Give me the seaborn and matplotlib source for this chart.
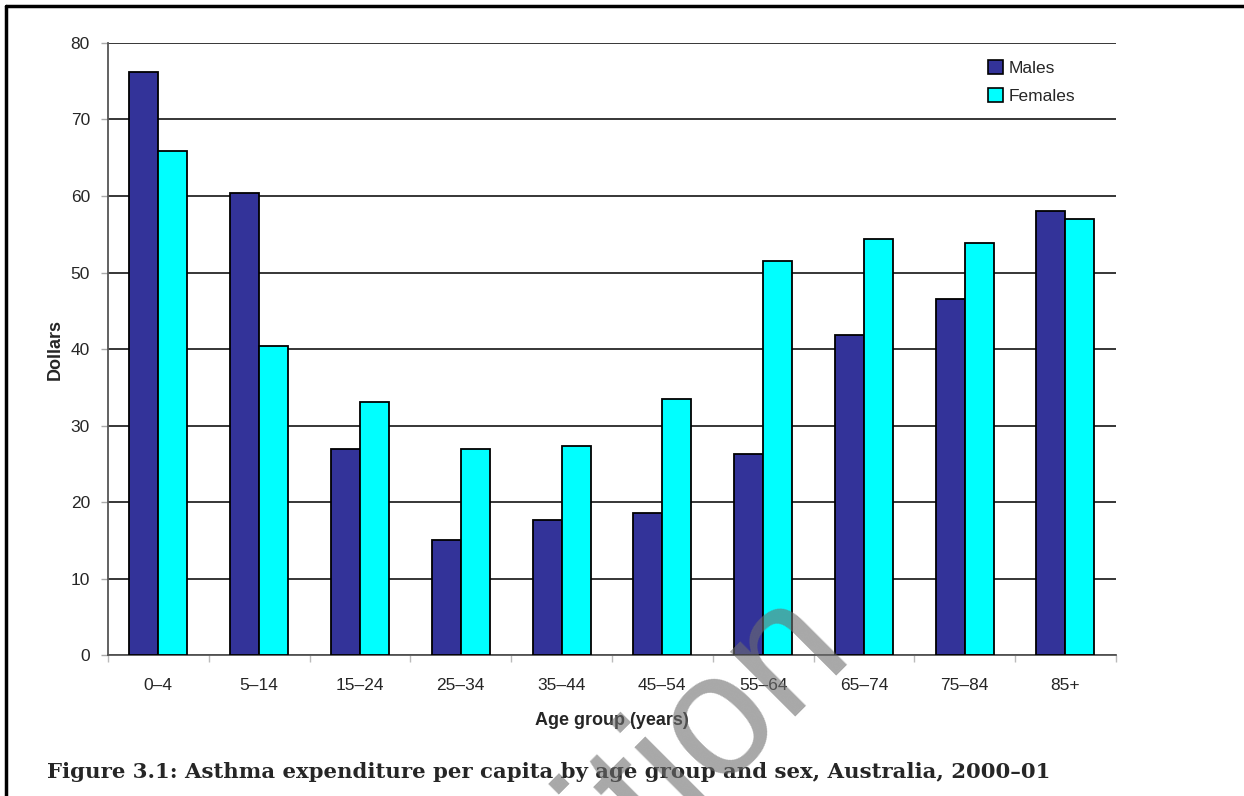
import numpy as np
import pandas as pd
import matplotlib
matplotlib.use("Agg")
import matplotlib.pyplot as plt
from matplotlib.lines import Line2D
from matplotlib.ticker import FixedLocator
import seaborn as sns

# values (dollars per capita)
age_groups = ["0–4", "5–14", "15–24", "25–34", "35–44",
              "45–54", "55–64", "65–74", "75–84", "85+"]
males = [76.2, 60.4, 27.0, 15.0, 17.7, 18.6, 26.3, 41.9, 46.6, 58.0]
females = [65.9, 40.4, 33.1, 26.9, 27.3, 33.5, 51.5, 54.4, 53.9, 57.0]
sexes = ["Males", "Females"]
palette = {"Males": "#333399", "Females": "#00FFFF"}

df = pd.DataFrame({
    "age": age_groups * 2,
    "sex": [sexes[0]] * len(age_groups) + [sexes[1]] * len(age_groups),
    "dollars": males + females,
})

sns.set_style("white")
plt.rcParams["font.family"] = ["Liberation Sans", "DejaVu Sans"]

fig = plt.figure(figsize=(12.44, 7.96), dpi=100)
ax = fig.add_axes([0.0868, 0.177, 0.897 - 0.0868, 0.946 - 0.177])

sns.barplot(data=df, x="age", y="dollars", hue="sex", order=age_groups,
            hue_order=sexes, palette=palette, width=0.575,
            edgecolor="black", linewidth=1.3, saturation=1, ax=ax, zorder=3)

ax.set_ylim(0, 80)
ax.set_xlim(-0.5, len(age_groups) - 0.5)
ax.set_yticks(np.arange(0, 81, 10))
ax.yaxis.grid(True, color="black", linewidth=1.1, zorder=0)
ax.set_axisbelow(True)

for s in ["top", "right"]:
    ax.spines[s].set_visible(False)
ax.spines["left"].set_color("#555555")
ax.spines["left"].set_linewidth(1.3)
ax.spines["bottom"].set_color("#555555")
ax.spines["bottom"].set_linewidth(1.3)

ax.tick_params(axis="y", which="major", left=True, length=5, width=1,
               color="#aaaaaa", labelsize=12.5, pad=8)
ax.tick_params(axis="x", which="major", bottom=False, labelsize=12.5, pad=13)
ax.xaxis.set_minor_locator(FixedLocator(np.arange(-0.5, len(age_groups), 1)))
ax.tick_params(axis="x", which="minor", bottom=True, length=5, width=1,
               color="#bbbbbb")

ax.set_xlabel("Age group (years)", fontsize=13, fontweight="bold", labelpad=14)
ax.set_ylabel("Dollars", fontsize=13, fontweight="bold", labelpad=5)

leg = ax.legend(loc="upper right", bbox_to_anchor=(0.975, 0.998), frameon=False,
                fontsize=12.5, handlelength=0.85, handleheight=0.85,
                handletextpad=0.3, labelspacing=0.7)
for h in leg.legend_handles:
    h.set_edgecolor("black")
    h.set_linewidth(1.2)

fig.text(0.038, 0.022, "Figure 3.1: Asthma expenditure per capita by age group and sex, Australia, 2000–01",
         fontsize=15.3, fontweight="bold", family=["DejaVu Serif", "Liberation Serif"],
         ha="left", va="baseline")

# watermark
fig.text(0.515, -0.004, "edition", fontsize=125, color="#6e6e6e",
         alpha=0.6, rotation=45, ha="center", va="center", zorder=10)

# outer frame (left and top edges)
fig.add_artist(Line2D([0.005, 0.005], [0, 0.9925], transform=fig.transFigure,
                      color="black", linewidth=2.5))
fig.add_artist(Line2D([0.005, 1.0], [0.9925, 0.9925], transform=fig.transFigure,
                      color="black", linewidth=2.5))

fig.savefig("out.png", dpi=100)
